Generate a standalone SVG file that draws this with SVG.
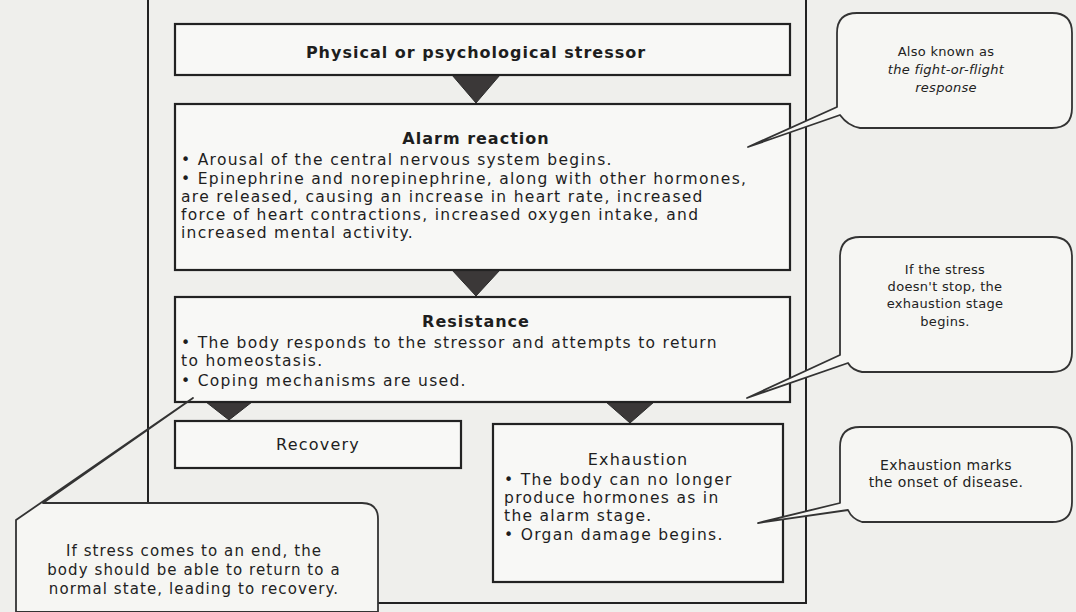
<svg xmlns="http://www.w3.org/2000/svg" width="1076" height="612" viewBox="0 0 1076 612">
<style>
.bg{fill:#efefec}
.box{fill:#f8f8f6;stroke:#222;stroke-width:2.2}
.frame{fill:none;stroke:#222;stroke-width:2}
.tri{fill:#3b3838;stroke:#2a2a2a;stroke-width:1}
.call{fill:#f6f6f3;stroke:#333;stroke-width:1.8;stroke-linejoin:round}
.t{font-family:"DejaVu Sans",sans-serif;font-size:15.5px;fill:#1e1e1e;letter-spacing:1.3px}
.h{font-family:"DejaVu Sans",sans-serif;font-size:16px;font-weight:bold;fill:#1e1e1e;text-anchor:middle;letter-spacing:1px}
.hn{font-family:"DejaVu Sans",sans-serif;font-size:16px;fill:#1e1e1e;text-anchor:middle;letter-spacing:1.2px}
.c1{font-family:"DejaVu Sans",sans-serif;font-size:13px;fill:#222;text-anchor:middle;letter-spacing:0.3px}
.c3{font-family:"DejaVu Sans",sans-serif;font-size:14px;fill:#222;text-anchor:middle;letter-spacing:0.4px}
.ci{font-style:italic}
.l{font-family:"DejaVu Sans",sans-serif;font-size:15px;fill:#222;text-anchor:middle;letter-spacing:1.1px}
</style>
<rect class="bg" x="0" y="0" width="1076" height="612"/>
<g id="frame">
<path class="frame" d="M148,0 V503 M806,0 V603 H378"/>
</g>
<g id="connectors">
<polygon class="tri" points="452,75 500,75 476,103"/>
<polygon class="tri" points="452,270 500,270 476,296"/>
<polygon class="tri" points="206,402 252,402 229,420"/>
<polygon class="tri" points="606,402 654,402 630,423"/>
</g>
<g id="stressor">
<rect class="box" x="175" y="24" width="615" height="51"/>
<text class="h" x="476" y="58">Physical or psychological stressor</text>
</g>
<g id="alarm">
<rect class="box" x="175" y="104" width="615" height="166"/>
<text class="h" x="476" y="144">Alarm reaction</text>
<text class="t" x="181" y="165">• Arousal of the central nervous system begins.</text>
<text class="t" x="181" y="184">• Epinephrine and norepinephrine, along with other hormones,</text>
<text class="t" x="181" y="202">are released, causing an increase in heart rate, increased</text>
<text class="t" x="181" y="220">force of heart contractions, increased oxygen intake, and</text>
<text class="t" x="181" y="238">increased mental activity.</text>
</g>
<g id="resistance">
<rect class="box" x="175" y="297" width="615" height="105"/>
<text class="h" x="476" y="327">Resistance</text>
<text class="t" x="181" y="348">• The body responds to the stressor and attempts to return</text>
<text class="t" x="181" y="366">to homeostasis.</text>
<text class="t" x="181" y="386">• Coping mechanisms are used.</text>
</g>
<g id="recovery">
<rect class="box" x="175" y="421" width="286" height="47"/>
<text class="hn" x="318" y="450">Recovery</text>
</g>
<g id="exhaustion">
<rect class="box" x="493" y="424" width="290" height="158"/>
<text class="hn" x="638" y="465">Exhaustion</text>
<text class="t" x="504" y="485">• The body can no longer</text>
<text class="t" x="504" y="503">produce hormones as in</text>
<text class="t" x="504" y="521">the alarm stage.</text>
<text class="t" x="504" y="540">• Organ damage begins.</text>
</g>
<g id="callout-fight">
<path class="call" d="M857,13 H1052 Q1072,13 1072,33 V108 Q1072,128 1052,128 H860 Q848,126 840,115 L748,147 L837,107 V33 Q837,13 857,13 Z"/>
<text class="c1" x="946" y="56">Also known as</text>
<text class="c1 ci" x="946" y="74">the fight-or-flight</text>
<text class="c1 ci" x="946" y="92">response</text>
</g>
<g id="callout-stress">
<path class="call" d="M860,237 H1052 Q1072,237 1072,257 V352 Q1072,372 1052,372 H862 Q852,370 848,363 L747,398 L840,355 V257 Q840,237 860,237 Z"/>
<text class="c1" x="945" y="274">If the stress</text>
<text class="c1" x="945" y="291">doesn't stop, the</text>
<text class="c1" x="945" y="308">exhaustion stage</text>
<text class="c1" x="945" y="326">begins.</text>
</g>
<g id="callout-disease">
<path class="call" d="M860,427 H1052 Q1072,427 1072,447 V502 Q1072,522 1052,522 H862 Q852,519 848,510 L758,523 L840,503 V447 Q840,427 860,427 Z"/>
<text class="c3" x="946" y="470">Exhaustion marks</text>
<text class="c3" x="946" y="487">the onset of disease.</text>
</g>
<g id="callout-recovery">
<path class="call" d="M43,503 L193,398 L16,520 V612 H378 V519 Q378,503 362,503 Z"/>
<text class="l" x="194" y="556">If stress comes to an end, the</text>
<text class="l" x="194" y="575">body should be able to return to a</text>
<text class="l" x="194" y="594">normal state, leading to recovery.</text>
</g>
</svg>
